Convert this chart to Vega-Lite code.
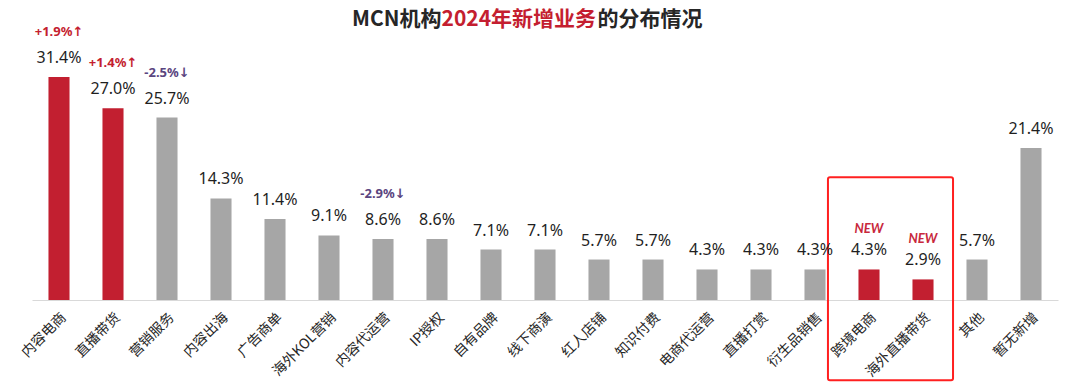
{
  "$schema": "https://vega.github.io/schema/vega-lite/v6.json",
  "width": 1026,
  "height": 284,
  "autosize": {"type": "none"},
  "padding": {"left": 32, "top": 16, "right": 22, "bottom": 83},
  "background": "white",
  "config": {
    "view": {"stroke": null},
    "font": "Noto Sans CJK SC",
    "axisBottom": {
      "labelAngle": -45, "labelFontSize": 14, "labelColor": "#262626", "labelFont": "Noto Sans CJK SC",
      "ticks": false, "domainColor": "#D9D9D9", "domainWidth": 1, "labelPadding": 10, "grid": false,
      "titleX": 565, "titleY": -281, "titleAlign": "left", "titleBaseline": "middle", "titleAngle": 0,
      "titleFontSize": 21, "titleFontWeight": "bold", "titleColor": "#262626", "titleFont": "Noto Sans CJK SC"
    },
    "axisTop": {
      "labels": false, "ticks": false, "domain": false, "grid": false,
      "titleX": 409, "titleY": 3, "titleAlign": "right", "titleBaseline": "middle", "titleAngle": 0,
      "titleFontSize": 21, "titleFontWeight": "bold", "titleColor": "#262626", "titleFont": "Noto Sans CJK SC"
    },
    "axisLeft": {
      "labels": false, "ticks": false, "domain": false, "grid": false,
      "titleX": 409, "titleY": 3, "titleAlign": "left", "titleBaseline": "middle", "titleAngle": 0,
      "titleFontSize": 21, "titleFontWeight": "bold", "titleColor": "#C41E30", "titleFont": "Noto Sans CJK SC"
    }
  },
  "datasets": {
    "biz": [
      {"cat": "内容电商", "value": 0.314, "type": "hl", "chg": "+1.9%↑", "dir": "up"},
      {"cat": "直播带货", "value": 0.270, "type": "hl", "chg": "+1.4%↑", "dir": "up"},
      {"cat": "营销服务", "value": 0.257, "type": "base", "chg": "-2.5%↓", "dir": "down"},
      {"cat": "内容出海", "value": 0.143, "type": "base"},
      {"cat": "广告商单", "value": 0.114, "type": "base"},
      {"cat": "海外KOL营销", "value": 0.091, "type": "base"},
      {"cat": "内容代运营", "value": 0.086, "type": "base", "chg": "-2.9%↓", "dir": "down"},
      {"cat": "IP授权", "value": 0.086, "type": "base"},
      {"cat": "自有品牌", "value": 0.071, "type": "base"},
      {"cat": "线下商演", "value": 0.071, "type": "base"},
      {"cat": "红人店铺", "value": 0.057, "type": "base"},
      {"cat": "知识付费", "value": 0.057, "type": "base"},
      {"cat": "电商代运营", "value": 0.043, "type": "base"},
      {"cat": "直播打赏", "value": 0.043, "type": "base"},
      {"cat": "衍生品销售", "value": 0.043, "type": "base"},
      {"cat": "跨境电商", "value": 0.043, "type": "hl", "nw": "NEW", "boxEnd": "海外直播带货"},
      {"cat": "海外直播带货", "value": 0.029, "type": "hl", "nw": "NEW"},
      {"cat": "其他", "value": 0.057, "type": "base"},
      {"cat": "暂无新增", "value": 0.214, "type": "base"}
    ]
  },
  "data": {"name": "biz"},
  "encoding": {
    "x": {"field": "cat", "type": "nominal", "sort": null, "title": "的分布情况",
          "scale": {"paddingInner": 0, "paddingOuter": 0}},
    "y": {"field": "value", "type": "quantitative", "title": "2024年新增业务",
          "scale": {"domain": [0, 0.4], "nice": false}}
  },
  "layer": [
    {
      "layer": [
        {
          "mark": {"type": "bar", "width": {"band": 0.39}},
          "encoding": {
            "color": {"field": "type", "type": "nominal", "legend": null,
                      "scale": {"domain": ["hl", "base"], "range": ["#C21F30", "#A6A6A6"]}}
          }
        },
        {
          "transform": [{"filter": "datum.chg != null"}],
          "mark": {"type": "text", "dy": -45, "baseline": "middle", "fontSize": 13, "fontWeight": "bold", "font": "Noto Sans, DejaVu Sans"},
          "encoding": {
            "text": {"field": "chg"},
            "color": {"condition": {"test": "datum.dir == 'up'", "value": "#C41E30"}, "value": "#5A4580"}
          }
        },
        {
          "transform": [{"filter": "datum.nw != null"}],
          "mark": {"type": "text", "dy": -40, "baseline": "middle", "fontSize": 13, "fontWeight": "bold", "fontStyle": "italic", "font": "Lato", "color": "#C8283C"},
          "encoding": {"text": {"field": "nw"}}
        },
        {
          "transform": [{"filter": "datum.boxEnd != null"}],
          "mark": {"type": "rect", "fill": "#ffffff", "fillOpacity": 0, "stroke": "#FF2020", "strokeWidth": 2, "cornerRadius": 2},
          "encoding": {
            "x": {"field": "cat", "type": "nominal", "sort": null, "title": "的分布情况", "bandPosition": -0.26,
                  "scale": {"paddingInner": 0, "paddingOuter": 0}},
            "x2": {"field": "boxEnd", "bandPosition": 1.056},
            "y": {"datum": 0.173, "type": "quantitative", "title": "2024年新增业务", "scale": {"domain": [0, 0.4], "nice": false}},
            "y2": {"datum": -0.113}
          }
        }
      ]
    },
    {
      "mark": {"type": "text", "dy": -19, "baseline": "middle", "fontSize": 16, "font": "Noto Sans", "color": "#1F1F1F"},
      "encoding": {
        "x": {"field": "cat", "type": "nominal", "sort": null, "title": "MCN机构",
              "axis": {"orient": "top"},
              "scale": {"paddingInner": 0, "paddingOuter": 0}},
        "text": {"field": "value", "type": "quantitative", "format": ".1%"}
      }
    }
  ],
  "resolve": {"axis": {"x": "independent"}}
}
